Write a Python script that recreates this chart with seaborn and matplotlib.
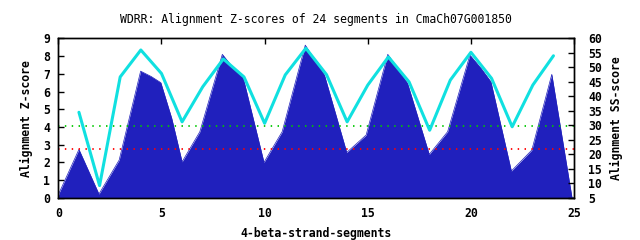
import matplotlib
matplotlib.use("Agg")
import matplotlib.pyplot as plt
import seaborn as sns
import pandas as pd

# Filled Z-score profile (left axis)
profile_x = [0, 0.05, 1.0, 1.97, 2.95, 3.99, 4.5, 4.97, 5.5, 6.0, 6.86, 7.95, 8.5, 8.95,
             9.97, 10.85, 11.97, 12.18, 12.9, 13.98, 14.92, 15.97, 16.5, 16.93, 17.98,
             18.87, 19.95, 20.5, 20.97, 21.96, 22.95, 23.92, 24.9, 25]
profile_z = [0.1, 0.3, 2.73, 0.21, 2.13, 7.15, 6.85, 6.5, 4.48, 2.03, 3.73, 8.1, 7.3, 6.83,
             2.0, 3.73, 8.62, 8.24, 6.93, 2.56, 3.54, 8.1, 7.21, 6.46, 2.45,
             3.73, 8.06, 7.3, 6.55, 1.51, 2.69, 6.97, 0.0, 0.0]

# SS-score per segment (right axis)
segments = list(range(1, 25))
ss_score = [34.5, 9.2, 46.7, 56.0, 47.9, 31.2, 43.3, 52.9, 46.7, 30.7, 47.4, 56.6,
            47.5, 31.2, 43.9, 53.6, 45.0, 28.3, 45.6, 55.2, 46.2, 29.5, 43.9, 54.0]

green_level = 4.03
red_level = 2.75

title = "WDRR: Alignment Z-scores of 24 segments in CmaCh07G001850"

sns.set_style("white")
plt.rcParams["font.family"] = ["DejaVu Sans Mono", "DejaVu Sans"]
plt.rcParams["text.color"] = "black"
plt.rcParams["axes.labelcolor"] = "black"
plt.rcParams["xtick.color"] = "black"
plt.rcParams["ytick.color"] = "black"

FS = 8.3

fig = plt.figure(figsize=(6.4, 2.4), dpi=100)
ax = fig.add_axes([0.0911, 0.176, 0.8059, 0.664])

df_p = pd.DataFrame({"x": profile_x, "z": profile_z})
sns.lineplot(data=df_p, x="x", y="z", ax=ax, color="#2020bd", lw=0.5, sort=False)
ax.fill_between(df_p["x"], df_p["z"], 0, color="#2020bd", lw=0, zorder=2)

ax.axhline(green_level, color="#00c800", lw=1.3, linestyle=(0, (0.8, 3)), zorder=3)
ax.axhline(red_level, color="#ff0000", lw=1.3, linestyle=(0, (0.8, 3)), zorder=3)

ax.set_xlim(0, 25)
ax.set_ylim(0, 9)
ax.set_xticks(range(0, 26, 5))
ax.set_yticks(range(0, 10))
ax.set_xlabel("4-beta-strand-segments", fontsize=FS, fontweight="bold", labelpad=5)
ax.set_ylabel("Alignment Z-score", fontsize=FS, fontweight="bold", labelpad=7)
ax.tick_params(direction="in", length=4, width=1, top=True, right=False,
               labelsize=FS, colors="black")
ax.tick_params(axis="x", pad=7)
ax.tick_params(axis="y", pad=6)
for lab in ax.get_xticklabels() + ax.get_yticklabels():
    lab.set_fontweight("bold")

ax2 = ax.twinx()
df_s = pd.DataFrame({"seg": segments, "ss": ss_score})
sns.lineplot(data=df_s, x="seg", y="ss", ax=ax2, color="#10e0e0", lw=2.2)
ax2.set_ylim(5, 60)
ax2.set_yticks(range(5, 61, 5))
ax2.set_xlim(0, 25)
ax2.set_ylabel("Alignment SS-score", fontsize=FS, fontweight="bold", labelpad=6)
ax2.tick_params(direction="in", length=4, width=1, labelsize=FS, pad=10, colors="black")
for lab in ax2.get_yticklabels():
    lab.set_fontweight("bold")

for a in (ax, ax2):
    for s in a.spines.values():
        s.set_linewidth(1.0)
        s.set_color("black")

fig.text(0.494, 0.918, title, ha="center", va="center", fontsize=FS, color="black")

fig.savefig("out.png", dpi=100)
